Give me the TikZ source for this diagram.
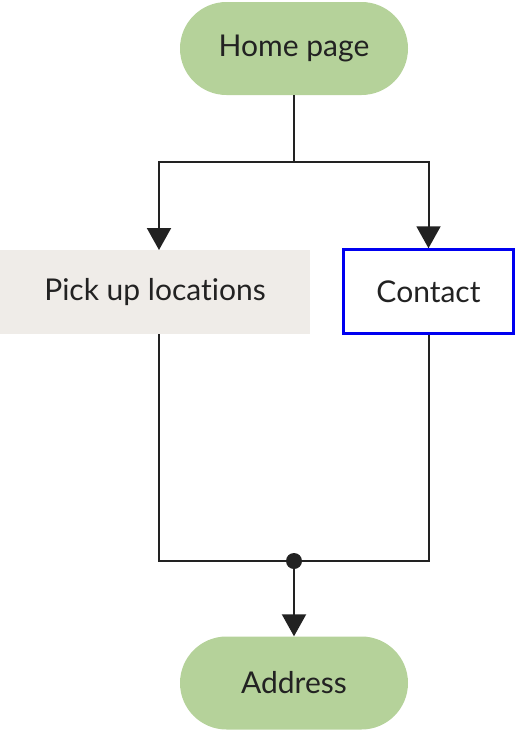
\documentclass[tikz,border=0pt]{standalone}
\usepackage{fontspec}
\setmainfont[Ligatures={NoCommon,NoDiscretionary,NoRare}]{Lato}
\usetikzlibrary{arrows.meta,shapes.misc}
\definecolor{leaf}{HTML}{B5D29A}
\definecolor{stone}{HTML}{EFECE8}
\definecolor{ink}{HTML}{222222}
\definecolor{edge}{HTML}{0000F0}

\begin{document}
\begin{tikzpicture}[x=1pt,y=-1pt,
	every node/.style={font=\fontsize{30}{34}\selectfont, text=ink, inner sep=0pt},
	term/.style={rounded rectangle, fill=leaf, minimum width=228pt, minimum height=93pt},
	pickbox/.style={rectangle, fill=stone, minimum width=310pt, minimum height=84pt},
	contactbox/.style={rectangle, draw=edge, line width=2.5pt, fill=white, minimum width=170pt, minimum height=84pt},
	link/.style={draw=ink, line width=2pt},
	arr/.style={link, -{Triangle[width=24pt,length=22pt]}}]
	\useasboundingbox (0,0) rectangle (516,731);

	%Nodes
	\node[term] (home) at (294,48.5) {Home page};
	\node[pickbox] (pick) at (155,292) {Pick up locations};
	\node[contactbox] (contact) at (428.5,291.5) {Contact};
	\node[term] (addr) at (294,683) {Address};

	%Split
	\coordinate (split) at (294,162);
	\coordinate (pickin) at (159,250);
	\coordinate (pickout) at (159,334);
	\draw[link] (home.south) -- (split);
	\draw[arr] (split) -| (pickin);
	\draw[arr] (split) -| (contact.north);

	%Merge
	\coordinate (join) at (294,561);
	\draw[link] (pickout) |- (join);
	\draw[link] (contact.south) |- (join);
	\fill[ink] (join) circle (8);
	\draw[arr] (join) -- (addr.north);
\end{tikzpicture}
\end{document}
